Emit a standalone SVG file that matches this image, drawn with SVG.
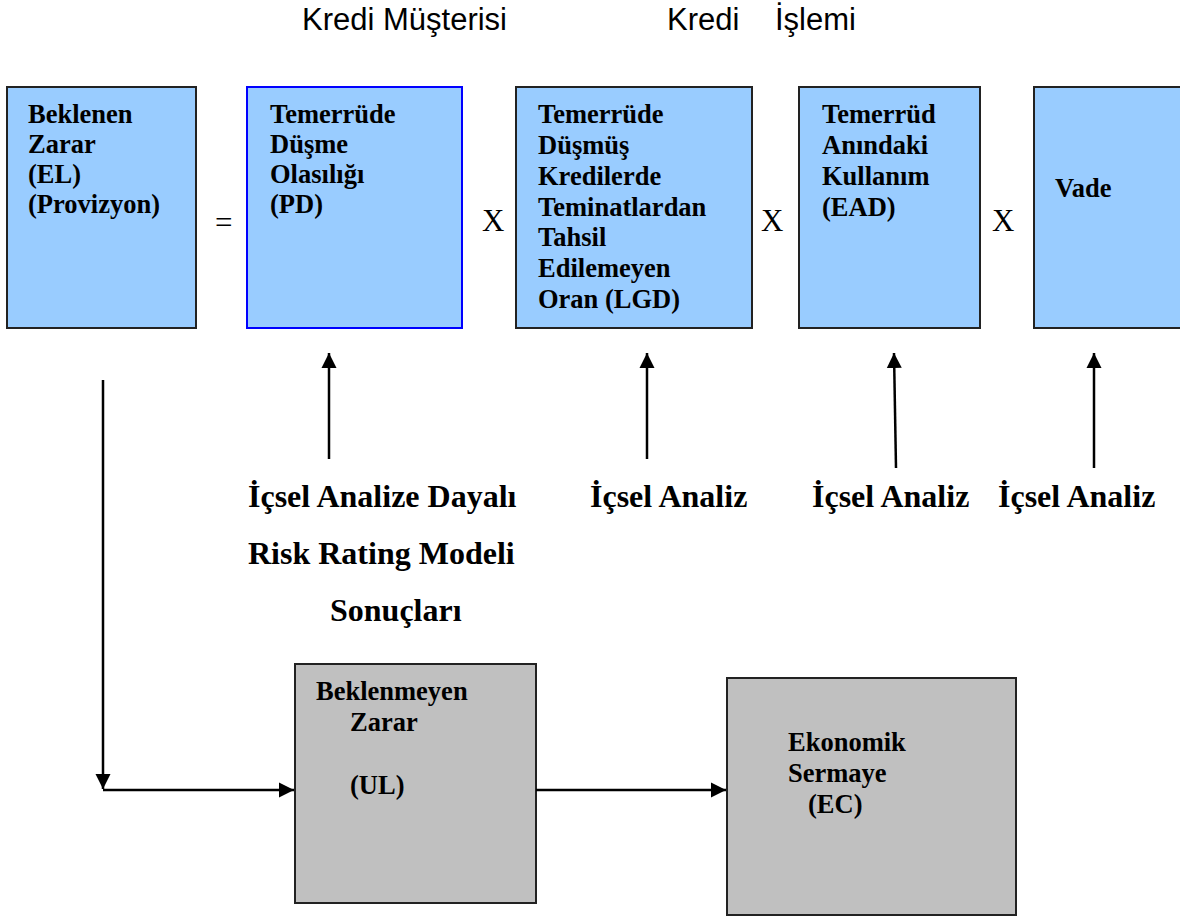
<svg xmlns="http://www.w3.org/2000/svg" width="1180" height="917" viewBox="0 0 1180 917">
<style>
.blue{fill:#99ccff;stroke:#222;stroke-width:2}
.gray{fill:#c0c0c0;stroke:#222;stroke-width:2}
.bt{font-family:"Liberation Serif","Times New Roman",serif;font-weight:bold;font-size:26.5px;fill:#000}
.lbl{font-family:"Liberation Serif","Times New Roman",serif;font-weight:bold;font-size:32px;fill:#000}
.op{font-family:"Liberation Serif","Times New Roman",serif;font-size:31px;fill:#000}
.top{font-family:"Liberation Sans",Arial,sans-serif;font-size:31px;fill:#000}
.conn{stroke:#000;stroke-width:2.5;fill:none}
</style>
<defs>
<marker id="ah" viewBox="0 0 10 10" refX="10" refY="5" markerWidth="6" markerHeight="6.4" markerUnits="strokeWidth" orient="auto">
<path d="M0,0 L10,5 L0,10 z" fill="#000"/>
</marker>
</defs>
<rect width="1180" height="917" fill="#fff"/>
<text class="top" x="302" y="30">Kredi Müşterisi</text>
<text class="top" x="667" y="30">Kredi</text>
<text class="top" x="775" y="30">İşlemi</text>

<g id="el">
<rect class="blue" x="7" y="87" width="189" height="241"/>
<text class="bt" x="28" y="123">Beklenen</text>
<text class="bt" x="28" y="153">Zarar</text>
<text class="bt" x="28" y="183">(EL)</text>
<text class="bt" x="28" y="213">(Provizyon)</text>
</g>
<text class="op" x="215" y="233">=</text>
<g id="pd">
<rect x="247" y="87" width="215" height="241" fill="#99ccff" stroke="#0000ff" stroke-width="2"/>
<text class="bt" x="270" y="123">Temerrüde</text>
<text class="bt" x="270" y="153">Düşme</text>
<text class="bt" x="270" y="183">Olasılığı</text>
<text class="bt" x="270" y="213">(PD)</text>
</g>
<text class="op" x="482" y="231">X</text>
<g id="lgd">
<rect class="blue" x="516" y="87" width="236" height="241"/>
<text class="bt" x="538" y="123">Temerrüde</text>
<text class="bt" x="538" y="154">Düşmüş</text>
<text class="bt" x="538" y="185">Kredilerde</text>
<text class="bt" x="538" y="216">Teminatlardan</text>
<text class="bt" x="538" y="246">Tahsil</text>
<text class="bt" x="538" y="277">Edilemeyen</text>
<text class="bt" x="538" y="308">Oran (LGD)</text>
</g>
<text class="op" x="761" y="231">X</text>
<g id="ead">
<rect class="blue" x="799" y="87" width="181" height="241"/>
<text class="bt" x="822" y="123">Temerrüd</text>
<text class="bt" x="822" y="154">Anındaki</text>
<text class="bt" x="822" y="185">Kullanım</text>
<text class="bt" x="822" y="216">(EAD)</text>
</g>
<text class="op" x="992" y="231">X</text>
<g id="vade">
<rect class="blue" x="1034" y="87" width="160" height="241"/>
<text class="bt" x="1055" y="197">Vade</text>
</g>

<g id="labels">
<text class="lbl" x="248" y="507">İçsel Analize Dayalı</text>
<text class="lbl" x="248" y="564">Risk Rating Modeli</text>
<text class="lbl" x="330" y="621">Sonuçları</text>
<text class="lbl" x="590" y="507">İçsel Analiz</text>
<text class="lbl" x="812" y="507">İçsel Analiz</text>
<text class="lbl" x="998" y="507">İçsel Analiz</text>
</g>

<g id="ul">
<rect class="gray" x="295" y="664" width="241" height="239"/>
<text class="bt" x="316" y="700">Beklenmeyen</text>
<text class="bt" x="350" y="731">Zarar</text>
<text class="bt" x="350" y="794">(UL)</text>
</g>
<g id="ec">
<rect class="gray" x="727" y="678" width="289" height="237"/>
<text class="bt" x="788" y="751">Ekonomik</text>
<text class="bt" x="788" y="782">Sermaye</text>
<text class="bt" x="808" y="813">(EC)</text>
</g>

<g id="connectors">
<line class="conn" x1="329" y1="459" x2="329" y2="353" marker-end="url(#ah)"/>
<line class="conn" x1="647" y1="459" x2="647" y2="353" marker-end="url(#ah)"/>
<line class="conn" x1="896" y1="468" x2="894" y2="353" marker-end="url(#ah)"/>
<line class="conn" x1="1094" y1="468" x2="1094" y2="353" marker-end="url(#ah)"/>
<line class="conn" x1="103" y1="380" x2="103" y2="789" marker-end="url(#ah)"/>
<line class="conn" x1="103" y1="790" x2="294" y2="790" marker-end="url(#ah)"/>
<line class="conn" x1="536" y1="790" x2="726" y2="790" marker-end="url(#ah)"/>
</g>
</svg>
